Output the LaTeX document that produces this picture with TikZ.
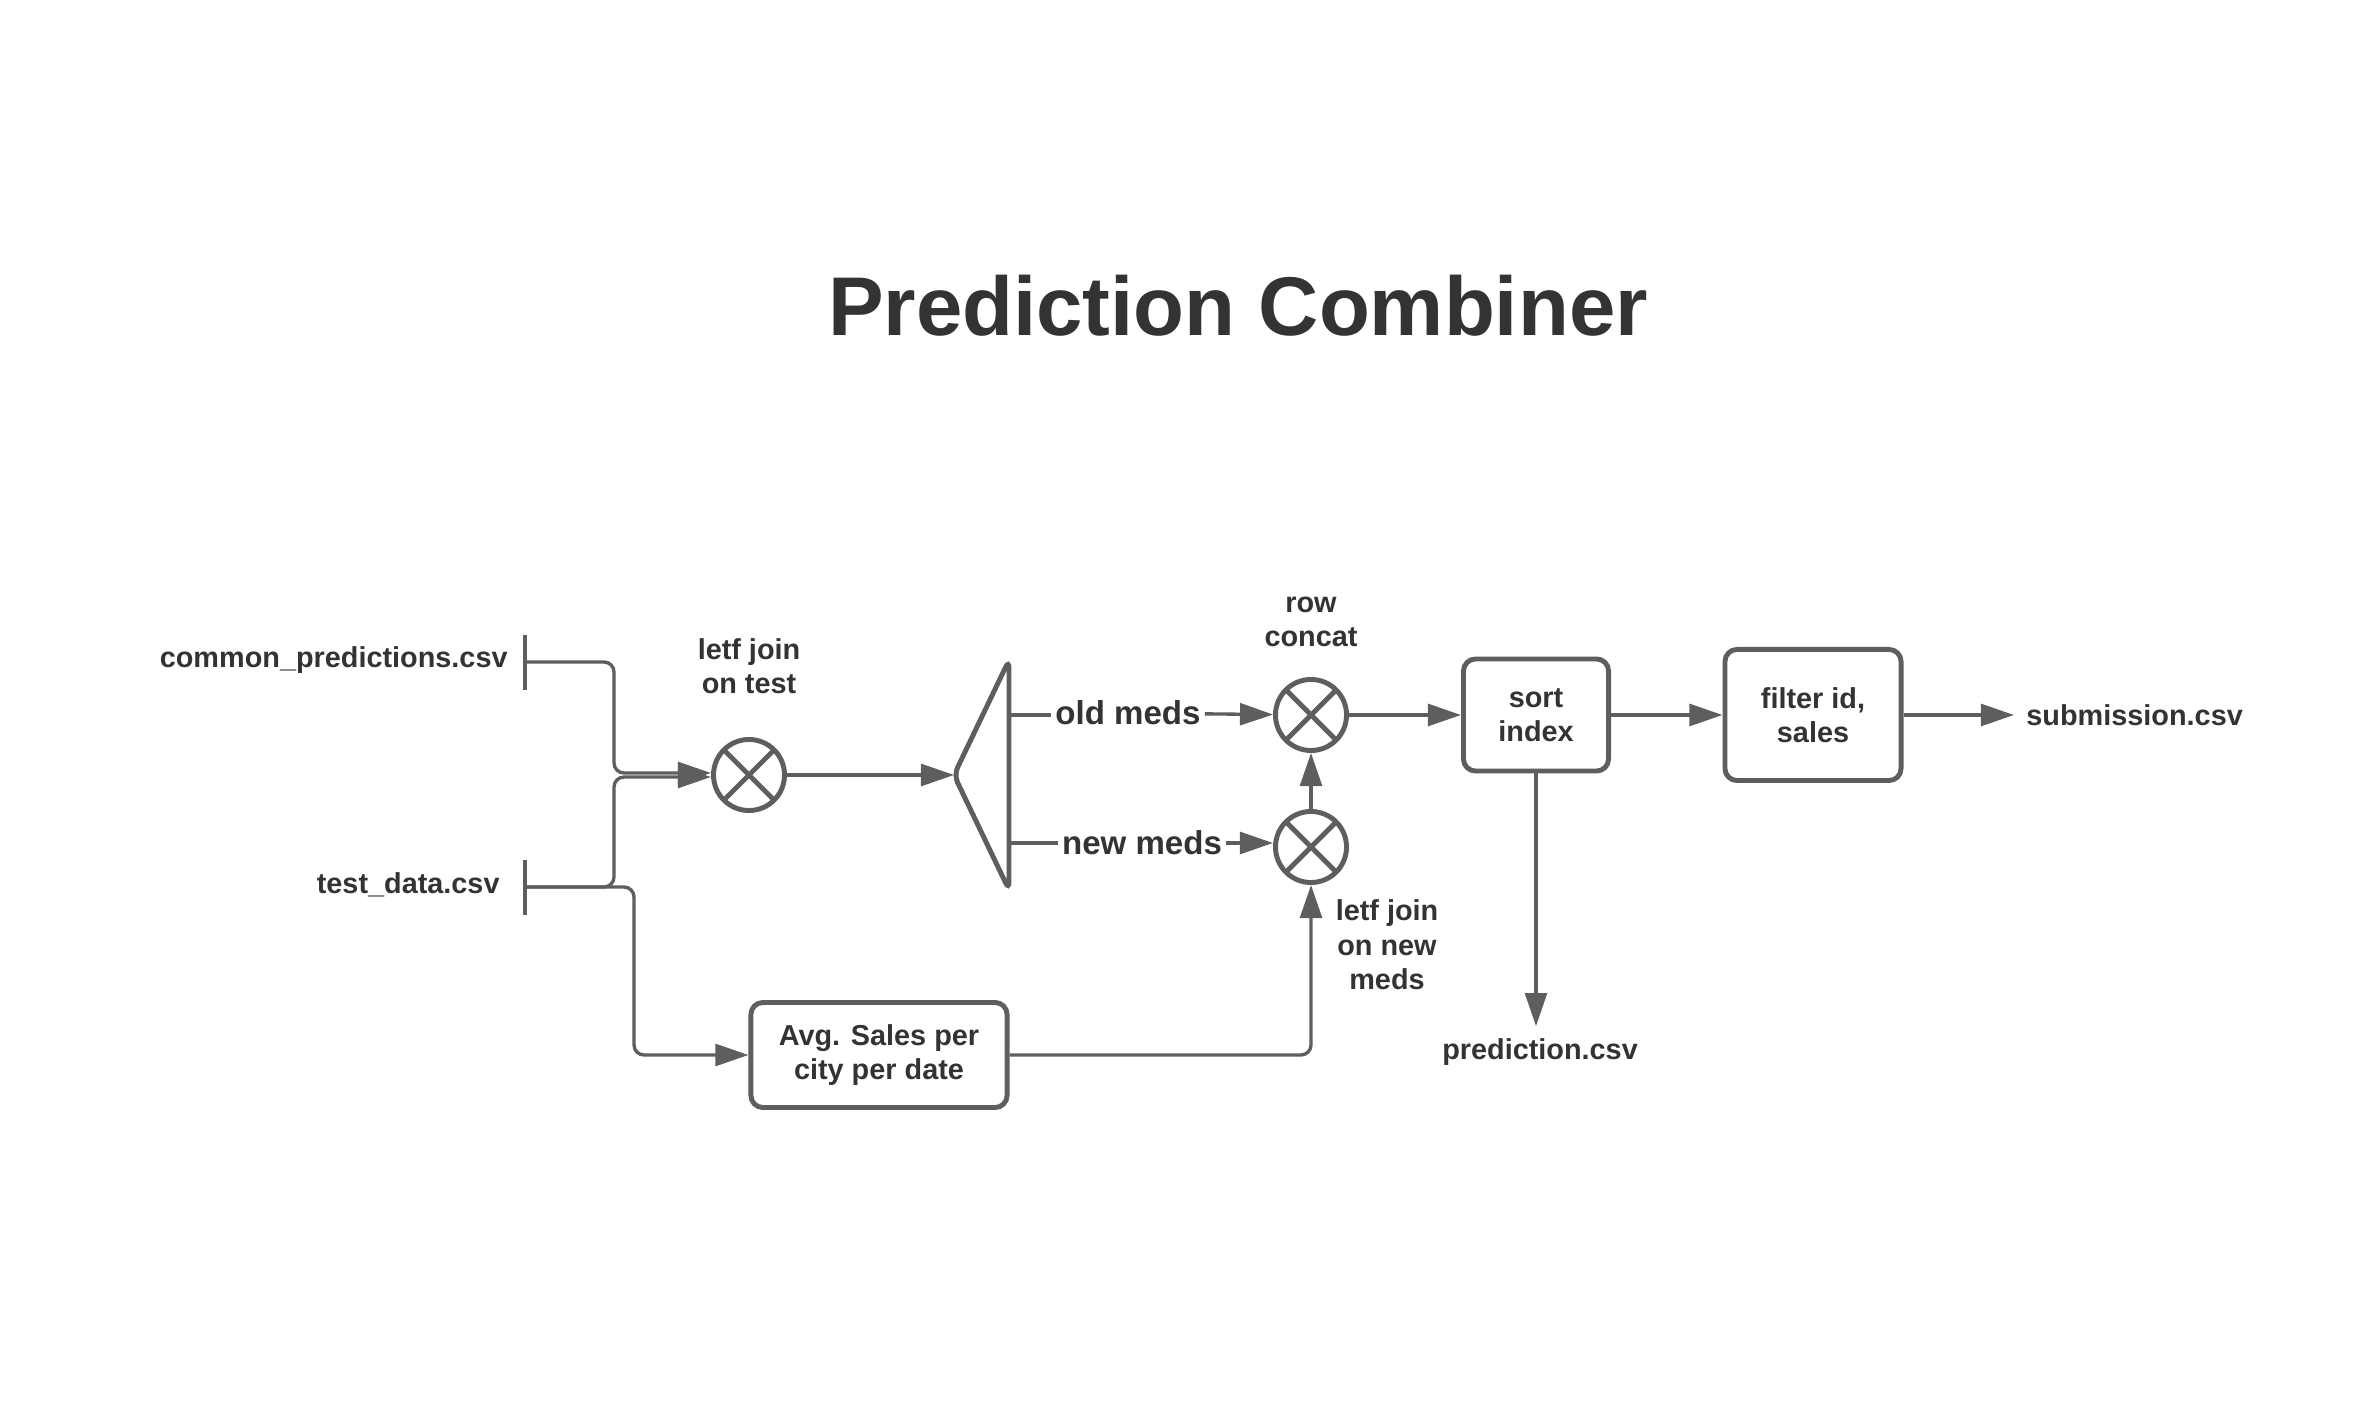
\documentclass[tikz,border=0pt]{standalone}
\usepackage{fontspec}
\setmainfont{Liberation Sans}
\usepackage{tikz}
\usetikzlibrary{arrows.meta}

\definecolor{linegray}{HTML}{5E5E5E}
\definecolor{textgray}{HTML}{333333}

\begin{document}
\begin{tikzpicture}[x=0.01cm, y=-0.01cm,
    conn/.style={draw=linegray, line width=0.95pt, rounded corners=0.1cm},
    flow/.style={conn, -{Triangle[length=9.4pt, width=6.2pt]}},
    lbl/.style={text=textgray, font=\fontsize{8.2}{9.8}\selectfont\bfseries, align=center},
    medlbl/.style={lbl, font=\fontsize{9.4}{11}\selectfont\bfseries, fill=white, inner sep=1pt},
    opbox/.style={lbl, draw=linegray, line width=1.4pt, rounded corners=0.12cm},
    joinop/.style={circle, draw=linegray, line width=1.4pt, minimum size=0.71cm, inner sep=0pt,
        path picture={\draw[linegray, line width=1.4pt]
            (path picture bounding box.south west) -- (path picture bounding box.north east)
            (path picture bounding box.north west) -- (path picture bounding box.south east);}}]

          \useasboundingbox (0,0) rectangle (2361,1404);

          % Title
          \node[lbl, font=\fontsize{23.7}{28}\selectfont\bfseries] (title) at (1238,306) {Prediction Combiner};

          % Input files with their ticks
          \node[lbl, anchor=east] (common) at (520,660) {common\_predictions.csv};
          \node[lbl, anchor=east] (test) at (512,885) {test\_data.csv};
          \coordinate (cp) at (525,662);
          \coordinate (tp) at (525,887);
          \foreach \n in {cp, tp} {
              \draw[conn] (\n) ++(0,-27) -- ++(0,55);
          }

          % Join and concat operators
          \node[joinop] (join1) at (749,775) {};
          \node[joinop] (rowcat) at (1311,715) {};
          \node[joinop] (join2) at (1311,847) {};
          \node[lbl] (joinlbl) at (749,666) {letf join\\on test};
          \node[lbl] (catlbl) at (1311,622) {row\\concat};
          \node[lbl] (newlbl) at (1387,945) {letf join\\on new\\meds};

          % Splitter
          \coordinate (split) at (954,775);
          \coordinate (so) at (1009,715);
          \coordinate (sn) at (1009,843);
          \draw[linegray, line width=1.4pt, rounded corners=0.08cm]
              (1009,660) -- (split) -- (1009,890) -- cycle;

          % Boxes and outputs
          \node[opbox, minimum width=2.56cm, minimum height=1.05cm] (avg) at (879,1055) {Avg. Sales per\\city per date};
          \node[opbox, minimum width=1.45cm, minimum height=1.12cm] (sort) at (1536,715) {sort\\index};
          \node[opbox, minimum width=1.76cm, minimum height=1.31cm] (filter) at (1813,715) {filter id,\\sales};
          \node[lbl] (pred) at (1540,1052) {prediction.csv};
          \node[lbl, anchor=west] (sub) at (2014,715) {submission.csv};

          % Inputs into the first join
          \coordinate (m) at (614,775);
          \coordinate (tb) at (634,1055);
          \draw[flow] (cp) -| ([yshift=0.02cm]m) -- ([yshift=0.02cm]join1.west);
          \draw[flow] (tp) -| ([yshift=-0.02cm]m) -- ([yshift=-0.02cm]join1.west);
          \draw[flow] (tp) -| (tb) -- (avg);

          \draw[flow] (join1) -- (split);

          % Old and new meds
          \node[medlbl] (old) at (1128,713) {old meds};
          \node[medlbl] (new) at (1142,843) {new meds};
          \draw[conn] (so) -- (so -| old.west);
          \draw[flow] (old) -- (rowcat);
          \draw[conn] (sn) -- (sn -| new.west);
          \draw[flow] (new.east) -- (new.east -| join2.west);
          \draw[flow] (avg) -| (join2);
          \draw[flow] (join2) -- (rowcat);

          % Output chain
          \draw[flow] (rowcat) -- (sort);
          \draw[flow] (sort) -- (sort.south |- pred.north);
          \draw[flow] (sort) -- (filter);
          \draw[flow] (filter) -- (sub);

      \end{tikzpicture}
\end{document}
